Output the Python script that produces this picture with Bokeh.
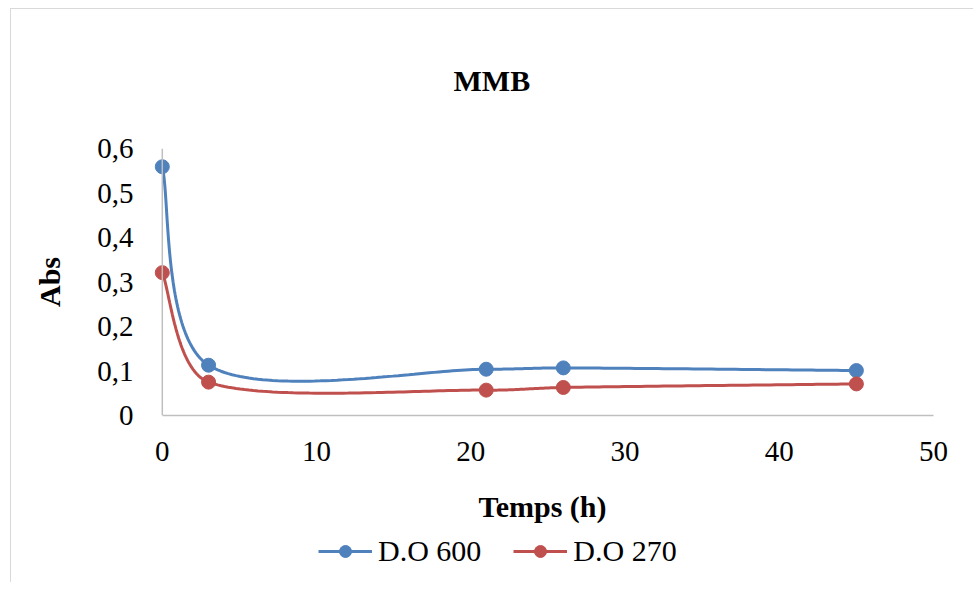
import numpy as np
from bokeh.plotting import figure
from bokeh.layouts import column
from bokeh.models import (Range1d, FixedTicker, Legend, LegendItem, Span, Title)
from bokeh.embed import file_html
from bokeh.resources import INLINE

# ---- data ----
temps = [0, 3, 21, 26, 45]
do600 = [0.559, 0.113, 0.104, 0.107, 0.101]
do270 = [0.321, 0.075, 0.057, 0.063, 0.071]
series_names = ["D.O 600", "D.O 270"]
series_colors = ["#4F81BD", "#C0504D"]
x_ticks = [0, 10, 20, 30, 40, 50]
y_ticks = [0, 0.1, 0.2, 0.3, 0.4, 0.5, 0.6]
y_tick_labels = ["0", "0,1", "0,2", "0,3", "0,4", "0,5", "0,6"]
title_text = "MMB"
x_title = "Temps (h)"
y_title = "Abs"

SERIF = "Liberation Serif"
X0, X1, Y0, Y1 = -0.7, 50, 0, 0.6
FRAME_W, FRAME_H = 781, 266
PX_X = FRAME_W / (X1 - X0)
PX_Y = FRAME_H / (Y1 - Y0)


def smooth(xs, ys, n=60):
    """Excel-like smoothed line: cubic Bezier (Catmull-Rom tangents,
    shortened next to short segments to avoid loops)."""
    P = [np.array([x * PX_X, y * PX_Y]) for x, y in zip(xs, ys)]
    m = len(P)

    def tangent(i, toward_next):
        if i == 0:
            return (P[1] - P[0]) / 6
        if i == m - 1:
            return (P[m - 1] - P[m - 2]) / 6
        la = np.linalg.norm(P[i] - P[i - 1])
        lb = np.linalg.norm(P[i + 1] - P[i])
        d = P[i + 1] - P[i - 1]
        seg = lb if toward_next else la
        return d * min(seg / (la + lb) / 3, 1 / 6)

    ox, oy = [], []
    t = np.linspace(0, 1, n)[:, None]
    for i in range(m - 1):
        p1, p2 = P[i], P[i + 1]
        c1 = p1 + tangent(i, True)
        c2 = p2 - tangent(i + 1, False)
        b = ((1 - t) ** 3) * p1 + 3 * ((1 - t) ** 2) * t * c1 \
            + 3 * (1 - t) * t ** 2 * c2 + t ** 3 * p2
        if i > 0:
            b = b[1:]
        ox.extend((b[:, 0] / PX_X).tolist())
        oy.extend((b[:, 1] / PX_Y).tolist())
    return ox, oy


p = figure(frame_width=FRAME_W, frame_height=FRAME_H,
           output_backend="svg", toolbar_location=None,
           x_range=Range1d(X0, X1), y_range=Range1d(Y0, Y1),
           min_border_left=140, min_border_right=41,
           min_border_top=139, min_border_bottom=118,
           margin=(8, 0, 0, 10),
           styles={"border-top": "1px solid #D9D9D9",
                   "border-left": "1px solid #D9D9D9",
                   "border-right": "none", "border-bottom": "none"})
p.outline_line_color = None
p.background_fill_color = "white"
p.border_fill_color = "white"
p.xgrid.visible = False
p.ygrid.visible = False

# axes
for ax in (p.xaxis[0], p.yaxis[0]):
    ax.axis_line_color = "#BFBFBF"
    ax.axis_line_width = 1.5
    ax.major_tick_line_color = None
    ax.minor_tick_line_color = None
    ax.major_tick_in = 0
    ax.major_tick_out = 0
    ax.minor_tick_in = 0
    ax.minor_tick_out = 0
    ax.major_label_text_font = SERIF
    ax.major_label_text_font_size = "29px"
    ax.major_label_text_color = "black"
    ax.axis_label_text_font = SERIF
    ax.axis_label_text_font_size = "30px"
    ax.axis_label_text_font_style = "bold"
    ax.axis_label_text_color = "black"

p.xaxis.ticker = FixedTicker(ticks=x_ticks)
p.xaxis.bounds = (0, 50)
p.xaxis.major_label_standoff = 26
p.xaxis.axis_label = x_title
p.xaxis.axis_label_standoff = 26

p.yaxis.ticker = FixedTicker(ticks=y_ticks)
p.yaxis.major_label_overrides = dict(zip(y_ticks, y_tick_labels))
p.yaxis.axis_line_color = None
p.yaxis.major_label_standoff = 18
p.yaxis.axis_label = y_title
p.yaxis.axis_label_standoff = 28

# the vertical axis line sits at x = 0
p.add_layout(Span(location=0, dimension="height", line_color="#BFBFBF",
                  line_width=1.5))

p.title = Title(text=title_text, align="left", offset=302, standoff=103,
                text_font=SERIF, text_font_size="30px",
                text_font_style="bold", text_color="black")

# series
for vals, col in zip([do600, do270], series_colors):
    sx, sy = smooth(temps, vals)
    p.line(sx, sy, line_color=col, line_width=3)
    p.scatter(temps, vals, size=14, marker="circle",
              fill_color=col, line_color=col)

# legend strip below the chart (same series and styles; its ranges keep
# the data itself out of view so only the legend shows)
pl = figure(width=962, height=50, output_backend="svg", toolbar_location=None,
            x_range=Range1d(-100, -99), y_range=Range1d(-100, -99),
            x_axis_location=None, y_axis_location=None,
            min_border=0, margin=(0, 0, 0, 10),
            styles={"border-left": "1px solid #D9D9D9"})
pl.outline_line_color = None
pl.grid.visible = False
pl.border_fill_color = "white"

items = []
for name, vals, col in zip(series_names, [do600, do270], series_colors):
    lr = pl.line(temps, vals, line_color=col, line_width=3)
    sr = pl.scatter(temps, vals, size=14, marker="circle",
                    fill_color=col, line_color=col)
    items.append(LegendItem(label=name, renderers=[lr, sr]))

legend = Legend(items=items, orientation="horizontal",
                location=(167, 14), padding=0, margin=0, spacing=32,
                glyph_width=54, glyph_height=30, label_standoff=6,
                label_text_font=SERIF, label_text_font_size="30px",
                label_text_color="black", label_height=30,
                border_line_color=None, background_fill_alpha=0)
pl.add_layout(legend, "center")

layout = column(p, pl, spacing=0)
open("out.html", "w").write(file_html(layout, INLINE))
